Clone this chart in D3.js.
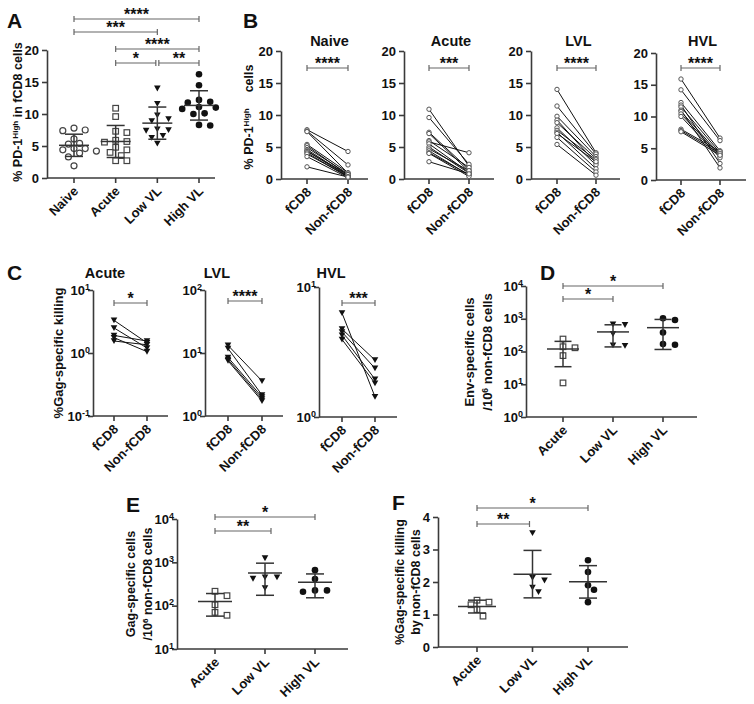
<!DOCTYPE html>
<html><head><meta charset="utf-8">
<script src="https://cdn.jsdelivr.net/npm/d3@7"></script>
<style>
body{margin:0;background:#fff}
text{font-family:"Liberation Sans",Arial,sans-serif;font-weight:bold;fill:#111}
</style>
</head><body>
<svg id="c" width="754" height="704"></svg>
<script>
// ---------------- DATA ----------------
// Panel A: % PD-1 High in fCD8 cells
const groupsA = ["Naive", "Acute", "Low VL", "High VL"];
const aNaive = [7.4, 7.5, 7.8, 6.1, 5.3, 5.4, 4.6, 4.4, 4.6, 4.2, 3.9, 3.3, 1.9];
const aAcute = [10.9, 9.6, 7.3, 7.1, 5.9, 5.6, 5.7, 4.8, 4.4, 4.0, 3.5, 2.7, 2.7];
const aLowVL = [14.0, 11.6, 9.8, 9.2, 8.9, 7.6, 7.5, 7.4, 6.6, 6.3, 5.4];
const aHighVL = [16.2, 14.5, 12.2, 11.9, 11.8, 11.1, 10.8, 11.0, 10.0, 10.1, 8.3, 8.2];
const ticksA = [0, 5, 10, 15, 20];

// Panel B: paired fCD8 vs Non-fCD8
const pairCats = ["fCD8", "Non-fCD8"];
const bTitles = ["Naive", "Acute", "LVL", "HVL"];
const bNaiveF = [7.7, 7.5, 7.4, 5.4, 5.2, 4.9, 4.6, 4.4, 4.3, 4.1, 3.9, 3.5, 1.9];
const bNaiveN = [4.3, 2.2, 0.9, 1.0, 0.6, 0.8, 0.5, 0.4, 0.7, 0.3, 0.4, 0.2, 0.3];
const bAcuteF = [10.9, 9.6, 7.3, 7.1, 6.0, 5.8, 5.5, 5.0, 4.7, 4.4, 4.1, 4.0, 2.7];
const bAcuteN = [2.0, 2.3, 1.5, 1.2, 1.8, 4.1, 1.0, 0.9, 1.3, 0.6, 0.7, 0.4, 0.8];
const bLVLF = [14.0, 11.4, 9.8, 9.2, 8.8, 8.0, 7.6, 7.3, 7.1, 6.5, 5.4];
const bLVLN = [4.1, 3.9, 3.5, 2.5, 3.2, 2.2, 3.0, 1.6, 2.7, 1.1, 0.6];
const bHVLF = [15.9, 14.2, 12.2, 11.8, 11.5, 11.0, 10.8, 10.4, 10.0, 8.0, 7.8, 7.6];
const bHVLN = [6.6, 6.2, 4.6, 2.6, 4.3, 1.9, 4.0, 3.8, 3.5, 4.5, 4.2, 3.9];
const bSig = ["****", "***", "****", "****"];

// Panel C: %Gag-specific killing (log)
const cTitles = ["Acute", "LVL", "HVL"];
const cAcuteF = [3.3, 2.5, 1.9, 1.75, 1.55];
const cAcuteN = [1.45, 1.2, 1.55, 1.05, 1.35];
const cLVLF = [13.2, 11.8, 8.5, 7.9, 7.5];
const cLVLN = [3.6, 2.15, 2.0, 1.85, 1.73];
const cHVLF = [6.3, 4.75, 4.5, 4.25, 3.95];
const cHVLN = [1.43, 2.74, 2.37, 1.95, 1.82];
const cSig = ["*", "****", "***"];

// Panels D, E, F
const groupsDEF = ["Acute", "Low VL", "High VL"];
const dAcute = [240, 130, 140, 75, 11];
const dLowVL = [680, 650, 345, 150, 155];
const dHighVL = [920, 1040, 380, 160, 170];
const eAcute = [215, 170, 105, 70, 60];
const eLowVL = [1250, 450, 420, 450, 255];
const eHighVL = [660, 410, 225, 210, 225];
const fAcute = [1.38, 1.44, 1.30, 1.15, 0.95];
const fLowVL = [3.51, 2.13, 2.05, 1.83, 1.69];
const fHighVL = [2.67, 2.31, 1.90, 1.76, 1.38];
const ticksF = [0, 1, 2, 3, 4];

// ---------------- HELPERS ----------------
const svg = d3.select("#c");
const AX = "#3a3a3a";

function styleAxis(sel, fs) {
  sel.select(".domain").attr("stroke", AX).attr("stroke-width", 1.6);
  sel.selectAll(".tick line").attr("stroke", AX).attr("stroke-width", 1.6);
  sel.selectAll(".tick text").attr("font-size", fs || 13);
}
function yAxis(g, scale, x, ticks, log) {
  const ax = d3.axisLeft(scale).tickValues(ticks).tickSize(5).tickPadding(3).tickSizeOuter(0);
  ax.tickFormat(log ? () => "" : d3.format("d"));
  const a = g.append("g").attr("transform", `translate(${x},0)`).call(ax);
  styleAxis(a, 13);
  if (log) {
    a.selectAll(".tick text").attr("x", -3).each(function (d) {
      const t = d3.select(this);
      t.append("tspan").text("10");
      t.append("tspan").attr("dy", "-0.55em").attr("font-size", "9px").text(Math.round(Math.log10(d)));
    });
  }
  return a;
}
function xAxis(g, xL, xR, y0, cats, xs) {
  g.append("line").attr("x1", xL).attr("x2", xR).attr("y1", y0).attr("y2", y0)
    .attr("stroke", AX).attr("stroke-width", 1.6);
  cats.forEach(c => {
    const x = xs(c);
    g.append("line").attr("x1", x).attr("x2", x).attr("y1", y0).attr("y2", y0 + 5)
      .attr("stroke", AX).attr("stroke-width", 1.6);
    g.append("text").attr("transform", `translate(${x + 5},${y0 + 14}) rotate(-45)`)
      .attr("text-anchor", "end").attr("font-size", 13).text(c);
  });
}
function sig(g, x1, x2, y, label) {
  g.append("path").attr("d", `M${x1},${y - 3}V${y + 3}M${x1},${y}H${x2}M${x2},${y - 3}V${y + 3}`)
    .attr("stroke", "#666").attr("stroke-width", 1.2).attr("fill", "none");
  g.append("text").attr("x", (x1 + x2) / 2).attr("y", y + 1).attr("text-anchor", "middle")
    .attr("font-size", 16).text(label);
}
function marker(g, shape, x, y) {
  if (shape === "openCircle")
    g.append("circle").attr("cx", x).attr("cy", y).attr("r", 3).attr("fill", "#fff").attr("stroke", "#444").attr("stroke-width", 1.2);
  else if (shape === "smallCircle")
    g.append("circle").attr("cx", x).attr("cy", y).attr("r", 2.2).attr("fill", "#fff").attr("stroke", "#555").attr("stroke-width", 1);
  else if (shape === "openSquare")
    g.append("rect").attr("x", x - 2.8).attr("y", y - 2.8).attr("width", 5.6).attr("height", 5.6).attr("fill", "#fff").attr("stroke", "#444").attr("stroke-width", 1.2);
  else if (shape === "triDown")
    g.append("path").attr("d", `M${x - 3.3},${y - 2.8}L${x + 3.3},${y - 2.8}L${x},${y + 3}Z`).attr("fill", "#111");
  else if (shape === "filledCircle")
    g.append("circle").attr("cx", x).attr("cy", y).attr("r", 3.3).attr("fill", "#111");
}
function swarm(py, diam) {
  const order = py.map((y, i) => ({ y, i })).sort((a, b) => a.y - b.y);
  const placed = [], off = new Array(py.length).fill(0);
  const step = diam * 0.8;
  for (const p of order) {
    for (let k = 0; k < 30; k++) {
      const cand = k === 0 ? 0 : (k % 2 ? 1 : -1) * Math.ceil(k / 2) * step;
      if (placed.every(q => Math.hypot(q.x - cand, q.y - p.y) >= diam)) {
        off[p.i] = cand; placed.push({ x: cand, y: p.y }); break;
      }
    }
  }
  return off;
}
function dotPanel(g, o) {
  o.groups.forEach((vals, i) => {
    const cx = o.xs(o.cats[i]);
    const py = vals.map(v => o.ys(v));
    const off = swarm(py, o.diam || 7);
    vals.forEach((v, j) => marker(g, o.shapes[i], cx + off[j], py[j]));
    const m = d3.mean(vals), s = d3.deviation(vals);
    const ym = o.ys(m), yu = o.ys(m + s), yl = o.ys(m - s);
    const ln = (x1, y1, x2, y2) => g.append("line").attr("x1", x1).attr("y1", y1).attr("x2", x2).attr("y2", y2)
      .attr("stroke", "#333").attr("stroke-width", 1.5);
    ln(cx - o.mh, ym, cx + o.mh, ym);
    ln(cx, yu, cx, yl);
    ln(cx - o.ch, yu, cx + o.ch, yu);
    ln(cx - o.ch, yl, cx + o.ch, yl);
  });
}
function pairPanel(g, o) {
  const x1 = o.xs(pairCats[0]), x2 = o.xs(pairCats[1]);
  o.f.forEach((v, i) => g.append("line").attr("x1", x1).attr("y1", o.ys(v)).attr("x2", x2).attr("y2", o.ys(o.n[i]))
    .attr("stroke", "#111").attr("stroke-width", 1));
  o.f.forEach(v => marker(g, o.shape, x1, o.ys(v)));
  o.n.forEach(v => marker(g, o.shape, x2, o.ys(v)));
}
function yTitle(g, x, y, parts, fs) {
  const t = g.append("text").attr("transform", `translate(${x},${y}) rotate(-90)`)
    .attr("text-anchor", "middle").attr("font-size", fs);
  parts.forEach(p => {
    const ts = t.append("tspan").text(p.t);
    if (p.sup) ts.attr("dy", "-0.5em").attr("font-size", (fs * 0.65) + "px");
    if (p.down) ts.attr("dy", (fs * 0.325) + "px");
    if (p.dx) ts.attr("dx", p.dx);
  });
}
function letter(x, y, l) {
  svg.append("text").attr("x", x).attr("y", y).attr("font-size", 21).text(l);
}

// ---------------- PANEL A ----------------
{
  const g = svg.append("g");
  const xs = d3.scalePoint().domain(groupsA).range([74, 199]);
  const ys = d3.scaleLinear().domain([0, 20]).range([178, 50]);
  yAxis(g, ys, 47, ticksA);
  xAxis(g, 47, 215, 178, groupsA, xs);
  dotPanel(g, { cats: groupsA, groups: [aNaive, aAcute, aLowVL, aHighVL], shapes: ["openCircle", "openSquare", "triDown", "filledCircle"], xs, ys, mh: 15, ch: 9, diam: 7 });
  sig(g, xs("Naive"), xs("High VL"), 19, "****");
  sig(g, xs("Naive"), xs("Low VL"), 32, "***");
  sig(g, xs("Acute"), xs("High VL"), 49, "****");
  sig(g, xs("Acute"), xs("Low VL") - 1.5, 63, "*");
  sig(g, xs("Low VL") + 1.5, xs("High VL"), 63, "**");
  yTitle(g, 22, 112, [{ t: "% PD-1" }, { t: "High", sup: true }, { t: " in fCD8 cells", down: true }], 12.5);
  letter(7, 28, "A");
}

// ---------------- PANEL B ----------------
{
  const lay = [
    { ax: 281, c: [307, 348], r: 368, y0: 179, y1: 51 },
    { ax: 404, c: [429, 469], r: 494, y0: 179, y1: 51 },
    { ax: 531, c: [557, 596], r: 620, y0: 179, y1: 51 },
    { ax: 656, c: [681, 720], r: 746, y0: 180, y1: 53 }
  ];
  const fs = [bNaiveF, bAcuteF, bLVLF, bHVLF], ns = [bNaiveN, bAcuteN, bLVLN, bHVLN];
  lay.forEach((L, i) => {
    const g = svg.append("g");
    const xs = d3.scalePoint().domain(pairCats).range(L.c);
    const ys = d3.scaleLinear().domain([0, 20]).range([L.y0, L.y1]);
    yAxis(g, ys, L.ax, ticksA);
    xAxis(g, L.ax, L.r, L.y0, pairCats, xs);
    pairPanel(g, { f: fs[i], n: ns[i], xs, ys, shape: "smallCircle" });
    sig(g, L.c[0], L.c[1], 68, bSig[i]);
    g.append("text").attr("x", (L.c[0] + L.c[1]) / 2 + 2).attr("y", 46).attr("text-anchor", "middle")
      .attr("font-size", 14.5).text(bTitles[i]);
  });
  yTitle(svg, 253, 117, [{ t: "% PD-1" }, { t: "High", sup: true }, { t: "cells", down: true, dx: 16 }], 12.5);
  letter(243, 28, "B");
}

// ---------------- PANEL C ----------------
{
  const lay = [
    { ax: 93, c: [114, 147], r: 168, dom: [0.1, 10], rg: [416, 290], sy: 303 },
    { ax: 205, c: [228, 262], r: 283, dom: [1, 100], rg: [416, 290], sy: 301 },
    { ax: 319, c: [342, 375], r: 397, dom: [1, 10], rg: [417, 287], sy: 303 }
  ];
  const fs = [cAcuteF, cLVLF, cHVLF], ns = [cAcuteN, cLVLN, cHVLN];
  lay.forEach((L, i) => {
    const g = svg.append("g");
    const xs = d3.scalePoint().domain(pairCats).range(L.c);
    const ys = d3.scaleLog().domain(L.dom).range(L.rg);
    const dec = d3.range(Math.round(Math.log10(L.dom[0])), Math.round(Math.log10(L.dom[1])) + 1).map(e => Math.pow(10, e));
    yAxis(g, ys, L.ax, dec, true);
    xAxis(g, L.ax, L.r, L.rg[0], pairCats, xs);
    pairPanel(g, { f: fs[i], n: ns[i], xs, ys, shape: "triDown" });
    sig(g, L.c[0], L.c[1], L.sy, cSig[i]);
    g.append("text").attr("x", L.ax + 12).attr("y", 278).attr("text-anchor", "middle")
      .attr("font-size", 14.5).text(cTitles[i]);
  });
  yTitle(svg, 63, 353, [{ t: "%Gag-specific killing" }], 13);
  letter(7, 280, "C");
}

// ---------------- PANEL D ----------------
{
  const g = svg.append("g");
  const xs = d3.scalePoint().domain(groupsDEF).range([563, 663]);
  const ys = d3.scaleLog().domain([1, 1e4]).range([417, 286]);
  yAxis(g, ys, 526, [1, 10, 100, 1000, 10000], true);
  xAxis(g, 526, 697, 417, groupsDEF, xs);
  dotPanel(g, { cats: groupsDEF, groups: [dAcute, dLowVL, dHighVL], shapes: ["openSquare", "triDown", "filledCircle"], xs, ys, mh: 16, ch: 8.5, diam: 7.5 });
  sig(g, xs("Acute"), xs("High VL"), 286, "*");
  sig(g, xs("Acute"), xs("Low VL"), 299, "*");
  yTitle(g, 474, 352, [{ t: "Env-specific cells" }], 13);
  yTitle(g, 492, 352, [{ t: "/10" }, { t: "6", sup: true }, { t: " non-fCD8 cells", down: true }], 13);
  letter(540, 280, "D");
}

// ---------------- PANEL E ----------------
{
  const g = svg.append("g");
  const xs = d3.scalePoint().domain(groupsDEF).range([215, 315]);
  const ys = d3.scaleLog().domain([10, 1e4]).range([649, 519]);
  yAxis(g, ys, 177, [10, 100, 1000, 10000], true);
  xAxis(g, 177, 348, 649, groupsDEF, xs);
  dotPanel(g, { cats: groupsDEF, groups: [eAcute, eLowVL, eHighVL], shapes: ["openSquare", "triDown", "filledCircle"], xs, ys, mh: 17, ch: 9, diam: 7.5 });
  sig(g, xs("Acute"), xs("High VL"), 517, "*");
  sig(g, xs("Acute"), xs("Low VL") + 6, 531, "**");
  yTitle(g, 135, 584, [{ t: "Gag-specific cells" }], 12.5);
  yTitle(g, 152, 584, [{ t: "/10" }, { t: "6", sup: true }, { t: " non-fCD8 cells", down: true }], 12.5);
  letter(126, 512, "E");
}

// ---------------- PANEL F ----------------
{
  const g = svg.append("g");
  const xs = d3.scalePoint().domain(groupsDEF).range([477, 588]);
  const ys = d3.scaleLinear().domain([0, 4]).range([647, 517]);
  yAxis(g, ys, 438, ticksF);
  xAxis(g, 438, 628, 647, groupsDEF, xs);
  dotPanel(g, { cats: groupsDEF, groups: [fAcute, fLowVL, fHighVL], shapes: ["openSquare", "triDown", "filledCircle"], xs, ys, mh: 19, ch: 9, diam: 7.5 });
  sig(g, xs("Acute"), xs("High VL"), 508, "*");
  sig(g, xs("Acute"), xs("Low VL") - 3, 524, "**");
  yTitle(g, 404, 582, [{ t: "%Gag-specific killing" }], 12.5);
  yTitle(g, 420, 582, [{ t: "by non-fCD8 cells" }], 12.5);
  letter(392, 510, "F");
}
</script>
</body></html>
